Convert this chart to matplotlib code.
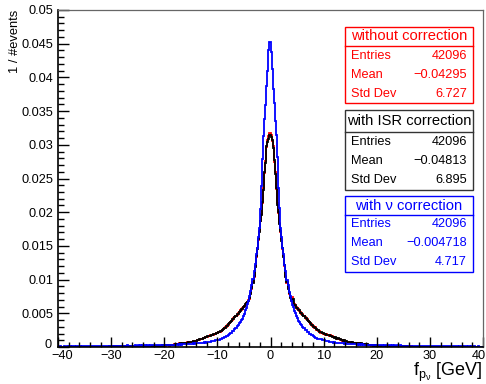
import numpy as np
import matplotlib
matplotlib.use("Agg")
import matplotlib.pyplot as plt
import matplotlib.transforms as mtransforms
from matplotlib.patches import Rectangle
from matplotlib.ticker import MultipleLocator

plt.rcParams['font.family'] = ['Liberation Sans', 'DejaVu Sans']
plt.rcParams['mathtext.fontset'] = 'custom'
plt.rcParams['mathtext.rm'] = 'Liberation Sans'
plt.rcParams['mathtext.it'] = 'Liberation Sans'

# ---- histogram definition: 400 bins of 0.2 GeV from -40 to 40 ----
x_min, x_max, n_bins = -40.0, 40.0, 400
n_entries = 42096

# bin contents (event counts), normalised by 1/#events when drawn
counts_without = [
    1,0,1,2,1,0,1,1,2,1, 1,2,1,0,2,1,1,3,1,2, 2,1,2,3,1,2,2,1,3,2, 2,3,1,2,2,3,2,1,2,3,
    2,2,3,1,2,3,2,3,2,2, 3,2,2,4,2,3,2,3,3,2, 3,4,2,3,3,2,4,3,3,4, 3,4,3,5,4,3,4,5,4,3,
    4,5,4,3,5,6,4,5,4,6, 5,6,5,7,6,8,6,7,9,8, 9,8,10,11,9,12,11,13,14,16,
    17,16,19,20,22,21,24,23,25,27, 27,29,28,31,30,33,32,35,34,38,
    40,41,45,45,50,51,56,57,61,64, 65,68,69,73,72,77,77,79,82,85,
    87,93,95,101,105,112,116,124,127,136, 140,150,154,164,170,179,185,196,201,212,
    216,228,232,243,249,259,264,276,280,292, 302,338,362,404,438,507,560,618,668,724,
    785,832,902,990,1088,1162,1248,1292,1318, 1339,
    1322,1286,1254,1155,1094,986,898,834,776,716, 672,612,568,508,442,398,368,332,310,288,
    312,276,268,255,252,240,236,224,221,207, 204,191,188,176,172,161,158,146,144,133,
    131,120,125,109,108,99,98,90,90,82, 84,78,80,74,76,70,72,66,68,62,
    62,56,57,50,50,45,45,40,41,37, 37,33,34,31,32,29,30,27,28,25,
    26,23,24,21,22,19,20,17,18,15, 16,13,14,11,12,9,11,8,10,7,
    9,7,8,6,8,5,7,5,6,4, 6,4,5,4,6,3,5,4,3,5, 4,3,5,4,3,4,2,3,4,2, 3,2,4,3,2,3,2,3,2,3,
    2,3,1,2,3,2,2,1,3,2, 2,1,2,2,1,3,2,1,2,2, 1,2,2,1,2,1,2,2,1,1, 2,1,1,2,1,2,1,1,2,1,
    1,1,2,1,0,1,2,1,1,1, 1,0,1,1,2,1,0,1,1,1,
]

counts_isr = [
    1,2,1,1,0,2,1,2,1,1, 2,1,1,2,1,2,2,1,2,1, 2,2,1,3,2,2,1,3,2,2, 3,2,2,1,3,2,3,2,2,3,
    2,3,2,3,3,2,3,2,4,3, 3,3,4,2,3,4,3,3,4,3, 4,3,3,4,5,3,4,4,3,5, 4,5,4,4,6,5,4,5,6,5,
    5,6,5,4,6,5,7,6,5,7, 6,7,8,7,8,7,9,8,10,9, 10,11,10,12,11,13,12,14,15,14,
    16,18,17,20,19,22,21,24,24,26, 28,27,30,29,32,31,34,36,35,39,
    39,43,44,48,48,53,54,58,60,63, 66,67,71,71,75,76,80,80,84,86,
    90,91,97,100,107,110,118,121,130,134, 143,147,156,160,172,176,187,192,204,209,
    218,225,235,240,251,256,267,272,283,289, 306,333,366,398,442,500,566,612,674,718,
    790,826,908,982,1092,1150,1256,1280,1300, 1326,
    1310,1292,1240,1166,1082,994,890,842,770,722, 664,618,560,514,436,404,362,338,306,296,
    286,298,262,260,246,244,230,228,214,212, 198,196,184,180,168,165,154,150,140,137,
    127,126,117,114,104,108,94,96,86,88, 80,82,76,78,72,74,68,70,64,65,
    58,60,53,54,48,49,43,45,39,41, 35,37,32,34,30,32,28,30,26,28,
    24,26,22,24,20,22,18,20,16,18, 14,16,12,14,10,12,9,11,8,10,
    7,9,6,8,6,7,5,7,5,6, 5,6,4,5,4,6,3,5,4,4, 3,5,4,3,4,3,2,4,3,3, 2,3,3,2,3,2,3,2,2,3,
    2,2,3,1,2,2,3,2,1,2, 2,1,2,2,1,2,1,2,2,1, 1,2,1,2,1,1,2,1,2,1, 1,2,1,1,2,1,1,2,1,1,
    2,1,1,1,2,1,0,1,1,2, 1,1,0,2,1,1,1,0,1,1,
]

counts_nu = [
    3,2,4,3,2,3,5,3,4,3, 4,5,3,4,6,4,3,5,4,4, 5,4,3,5,5,6,4,5,7,5, 6,5,4,6,5,7,5,6,4,6,
    6,7,5,6,8,6,7,5,7,8, 7,8,6,7,9,7,6,8,7,9, 7,8,9,7,8,10,8,7,9,8, 9,8,10,8,9,10,8,11,9,10,
    9,11,10,9,10,12,9,11,10,11, 11,10,12,11,10,12,11,13,11,12, 13,11,12,14,12,13,15,12,14,13,
    15,13,14,16,14,17,15,16,18,16, 17,19,18,20,18,21,19,22,20,23,
    22,24,23,26,24,27,26,29,27,30, 31,30,33,32,35,35,38,38,41,42,
    45,45,49,50,55,56,61,63,69,71, 77,79,86,89,98,102,112,118,129,135,
    147,154,169,178,196,208,229,243,268,288, 320,347,388,422,474,516,579,621,684,746,
    862,1004,1176,1318,1425,1512,1628,1724,1856, 1903,
    1842,1738,1611,1527,1414,1326,1187,995,866,742, 686,619,580,515,473,421,388,346,321,287,
    262,248,223,212,191,182,165,158,144,138, 125,121,109,104,94,91,83,81,74,73,
    67,65,59,58,52,52,47,47,43,42, 41,38,38,35,35,32,33,30,31,28,
    29,26,28,25,26,23,25,22,24,21, 22,20,21,19,20,18,19,17,18,16,
    17,15,17,15,16,14,16,13,15,14, 13,14,12,13,14,11,13,12,11,13,
    12,10,11,12,10,11,9,10,11,10, 9,11,10,9,10,8,10,9,8,10, 9,8,10,9,8,9,7,8,9,7, 8,7,9,8,7,8,6,7,8,7,
    6,8,7,6,7,8,6,7,7,6, 6,5,7,6,5,6,7,5,6,6, 5,6,4,5,6,5,4,6,5,5, 4,5,6,4,5,4,3,5,4,4,
    4,3,5,4,4,3,4,5,3,4, 3,4,3,2,3,4,3,3,2,3,
]

series_labels = ["without correction", "with ISR correction", "with \u03bd correction"]
series_colors = ["#ff0000", "#000000", "#0000ff"]
stat_entries = [42096, 42096, 42096]
stat_means = ["\u22120.04295", "\u22120.04813", "\u22120.004718"]
stat_stddevs = ["6.727", "6.895", "4.717"]

W, H = 486, 384
fig = plt.figure(figsize=(W / 100, H / 100), dpi=100)
ax = fig.add_axes([58 / W, 1 - 347 / H, (483 - 58) / W, (347 - 10) / H])

edges = np.linspace(x_min, x_max, n_bins + 1)
for cnt, col in zip([counts_without, counts_isr, counts_nu], series_colors):
    vals = np.asarray(cnt, dtype=float) / n_entries
    ax.stairs(vals, edges, color=col, lw=1.3, baseline=0)

ax.set_xlim(x_min, x_max)
ax.set_ylim(0, 0.05)
ax.xaxis.set_major_locator(MultipleLocator(10))
ax.xaxis.set_minor_locator(MultipleLocator(2))
ax.yaxis.set_major_locator(MultipleLocator(0.005))
ax.yaxis.set_minor_locator(MultipleLocator(0.001))
ax.yaxis.set_major_formatter(matplotlib.ticker.FuncFormatter(
    lambda v, p: "0" if abs(v) < 1e-12 else ("%g" % v)))
ax.tick_params(which='both', direction='in', top=False, right=False,
               labelsize=9.2, colors='black')
ax.tick_params(axis='x', which='major', length=7, width=1, pad=2)
ax.tick_params(axis='x', which='minor', length=3.5, width=1)
ax.tick_params(axis='y', which='major', length=8, width=1, pad=3.5)
ax.tick_params(axis='y', which='minor', length=4.5, width=1)
for s in ['top', 'right']:
    ax.spines[s].set_color('#666666')
    ax.spines[s].set_linewidth(0.9)
for s in ['left', 'bottom']:
    ax.spines[s].set_color('black')
    ax.spines[s].set_linewidth(1.2)

# nudge the corner tick labels so they stay clear of each other and the canvas edge
fig.canvas.draw()
def nudge(lbl, dx_px, dy_px):
    off = mtransforms.ScaledTranslation(dx_px / 100, dy_px / 100, fig.dpi_scale_trans)
    lbl.set_transform(lbl.get_transform() + off)

for lbl in ax.get_xticklabels():
    if lbl.get_text() == "40":
        nudge(lbl, -4, 0)
    elif lbl.get_text() == "\u221240":
        nudge(lbl, 4, 0)
for lbl in ax.get_yticklabels():
    if lbl.get_text() == "0":
        nudge(lbl, -2, 3)

def fx(px):
    return px / W

def fy(py):
    return 1 - py / H

# axis titles
fig.text(fx(15), fy(10), "1 / #events", rotation=90, ha='center', va='top', fontsize=9.3)
fig.text(fx(482), fy(376), r"$\mathrm{f}_{\mathrm{p}_{\nu}}$ [GeV]", ha='right',
         va='baseline', fontsize=13)

# statistics boxes
box_x0, box_x1 = 345, 473
boxes = [(26.7, 46, 103.3), (110, 132, 190), (196, 215, 271.7)]
for (top, div, bot), lab, col, ent, mean, sd in zip(
        boxes, series_labels, series_colors, stat_entries, stat_means, stat_stddevs):
    edge = col if col != "#000000" else "#333333"
    fig.add_artist(Rectangle((fx(box_x0), fy(bot)), fx(box_x1) - fx(box_x0),
                             fy(top) - fy(bot), transform=fig.transFigure,
                             facecolor='white', edgecolor=edge, lw=1.0, zorder=5))
    fig.add_artist(plt.Line2D([fx(box_x0), fx(box_x1)], [fy(div), fy(div)],
                              transform=fig.transFigure, color=edge, lw=1.0, zorder=6))
    fig.text(fx((box_x0 + box_x1) / 2), fy((top + div) / 2), lab, ha='center',
             va='center', fontsize=10.6, color=col, zorder=7)
    row_h = (bot - div) / 3
    for j, (name, val) in enumerate([("Entries", str(ent)), ("Mean", mean),
                                     ("Std Dev", sd)]):
        yc = div + row_h * (j + 0.5)
        fig.text(fx(box_x0 + 6), fy(yc), name, ha='left', va='center',
                 fontsize=9.2, color=col, zorder=7)
        fig.text(fx(box_x1 - 6), fy(yc), val, ha='right', va='center',
                 fontsize=9.2, color=col, zorder=7)

fig.savefig("out.png", dpi=100)
